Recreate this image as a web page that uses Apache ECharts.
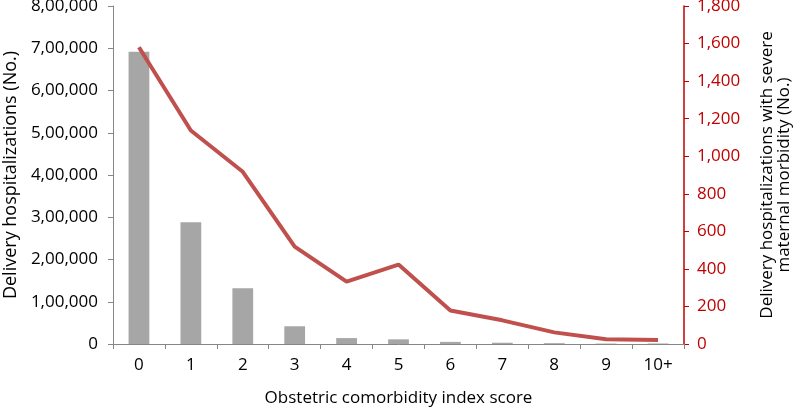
<!DOCTYPE html>
<html>
<head>
<meta charset="utf-8">
<script src="https://cdn.jsdelivr.net/npm/echarts@6/dist/echarts.min.js"></script>
<style>
  html, body { margin: 0; padding: 0; background: #fff; }
  #chart { width: 800px; height: 411px; }
</style>
</head>
<body>
<div id="chart"></div>
<script>
// 横坐标：产科合并症指数评分
const scores = ['0', '1', '2', '3', '4', '5', '6', '7', '8', '9', '10+']
// 分娩住院人数（左轴）
const deliveries = [692000, 288000, 132000, 42000, 14000, 11000, 5000, 3000, 2000, 1000, 1200]
// 严重孕产妇并发症人数（右轴）
const severeCases = [1580, 1137, 917, 519, 332, 423, 178, 126, 62, 25, 21]

// 印度式千分位：8,00,000
function indianFormat (v) {
  const s = String(Math.round(v))
  if (s.length <= 3) return s
  const last3 = s.slice(-3)
  const rest = s.slice(0, -3).replace(/\B(?=(\d{2})+(?!\d))/g, ',')
  return rest + ',' + last3
}

const font = 'Open Sans'
const myChart = echarts.init(document.getElementById('chart'))
myChart.setOption({
  animation: false,
  textStyle: { fontFamily: font },
  grid: { left: 113, right: 116, top: 6, bottom: 67, outerBoundsMode: 'none', containLabel: false },
  xAxis: {
    type: 'category',
    data: scores,
    name: 'Obstetric comorbidity index score',
    nameLocation: 'middle',
    nameGap: 46,
    nameTextStyle: { fontSize: 17, color: '#000' },
    axisLine: { lineStyle: { color: '#868686', width: 1 } },
    axisTick: { show: true, length: 5, lineStyle: { color: '#868686' } },
    axisLabel: { fontSize: 17, color: '#000', margin: 13 }
  },
  yAxis: [
    {
      type: 'value',
      min: 0,
      max: 800000,
      interval: 100000,
      name: 'Delivery hospitalizations (No.)',
      nameLocation: 'middle',
      nameRotate: 90,
      nameGap: 86,
      nameTextStyle: { fontSize: 18, color: '#000' },
      splitLine: { show: false },
      axisLine: { show: true, lineStyle: { color: '#868686' } },
      axisTick: { show: true, length: 5, lineStyle: { color: '#868686' } },
      axisLabel: { fontSize: 17, color: '#000', margin: 15, formatter: indianFormat }
    },
    {
      type: 'value',
      position: 'right',
      min: 0,
      max: 1800,
      interval: 200,
      name: 'Delivery hospitalizations with severe\nmaternal morbidity (No.)',
      nameLocation: 'middle',
      nameRotate: 90,
      nameGap: 75,
      nameTextStyle: { fontSize: 17, color: '#000', lineHeight: 17 },
      splitLine: { show: false },
      axisLine: { show: true, lineStyle: { color: '#c00000', width: 1.5 } },
      axisTick: { show: true, length: 5, lineStyle: { color: '#c00000' } },
      axisLabel: { fontSize: 17, color: '#c00000', margin: 13, formatter: indianFormat }
    }
  ],
  series: [
    {
      type: 'bar',
      data: deliveries,
      barWidth: '40%',
      itemStyle: { color: '#a6a6a6' }
    },
    {
      type: 'line',
      yAxisIndex: 1,
      data: severeCases,
      symbol: 'none',
      lineStyle: { color: '#c0504d', width: 4 },
      z: 3
    }
  ]
})
</script>
</body>
</html>
